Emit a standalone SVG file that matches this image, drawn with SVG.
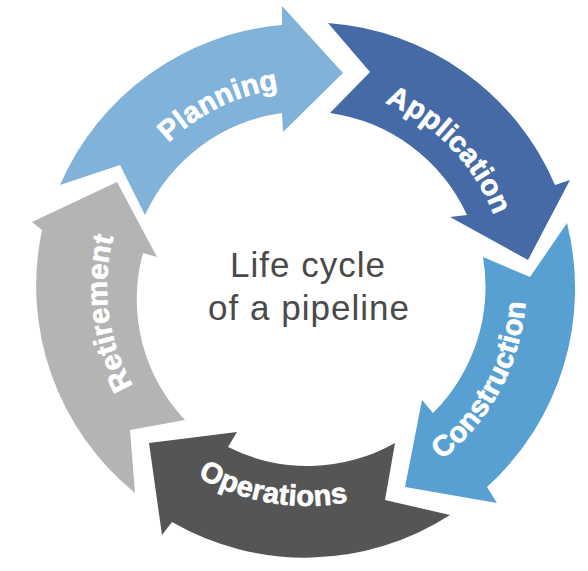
<svg xmlns="http://www.w3.org/2000/svg" width="588" height="571" viewBox="0 0 588 571">
  <style>
    .lbl { font-family: "Liberation Sans", Arial, sans-serif; font-weight: bold; font-size: 29px; fill: #ffffff; stroke: #ffffff; stroke-width: 0.7px; letter-spacing: 0.3px; }
    .center { font-family: "Liberation Sans", Arial, sans-serif; font-size: 35px; fill: #4a4a4a; letter-spacing: 1px; }
  </style>
  <defs>
    <path id="pPlanning" d="M108.1,307.9 A200,200 0 0 1 445.9,143.1"/>
    <path id="pApplication" d="M225.7,104.3 A200,200 0 0 1 486.8,374.7"/>
    <path id="pConstruction" d="M276.5,503.9 A219,219 0 0 0 469.7,140.5"/>
    <path id="pOperations" d="M91.7,326.9 A219,219 0 0 0 497.6,394.8"/>
    <path id="pRetirement" d="M263.7,482.3 A200,200 0 0 1 214.7,109.6"/>
  </defs>
  <rect width="588" height="571" fill="#ffffff"/>
  <g id="connectors"/>
  <g id="planning">
    <path d="M60,185 A267,267 0 0 1 282,25 L282,6 L343,73 L283,132 L282,113 A177,177 0 0 0 145,215 L120,165 Z" fill="#80b2da"/>
    <text class="lbl" text-anchor="middle"><textPath href="#pPlanning" startOffset="50%">Planning</textPath></text>
  </g>
  <g id="application">
    <path d="M328,23 A268,268 0 0 1 555,185 L570,180 L528,260 L450,217 L467,215 A178,178 0 0 0 330,113 L370,72 Z" fill="#456aa6"/>
    <text class="lbl" text-anchor="middle"><textPath href="#pApplication" startOffset="50%">Application</textPath></text>
  </g>
  <g id="construction">
    <path d="M567,223 A268,268 0 0 1 487,487 L497,503 L405,487 L422,400 L433,413 A178,178 0 0 0 483,257 L530,277 Z" fill="#57a0d1"/>
    <text class="lbl" text-anchor="middle"><textPath href="#pConstruction" startOffset="50%">Construction</textPath></text>
  </g>
  <g id="operations">
    <path d="M450,515 A267,267 0 0 1 172,522 L162,535 L149,443 L237,432 L228,447 A177,177 0 0 0 395,443 L385,500 Z" fill="#555555"/>
    <text class="lbl" text-anchor="middle"><textPath href="#pOperations" startOffset="50%">Operations</textPath></text>
  </g>
  <g id="retirement">
    <path d="M135,493 A267,267 0 0 1 42,230 L32,222 L117,182 L157,257 L143,253 A175,175 0 0 0 185,420 L130,430 Z" fill="#b4b4b4"/>
    <text class="lbl" text-anchor="middle"><textPath href="#pRetirement" startOffset="50%">Retirement</textPath></text>
  </g>
  <g id="center-label">
    <text class="center" x="308" y="277" text-anchor="middle">Life cycle</text>
    <text class="center" x="309" y="320" text-anchor="middle">of a pipeline</text>
  </g>
</svg>
